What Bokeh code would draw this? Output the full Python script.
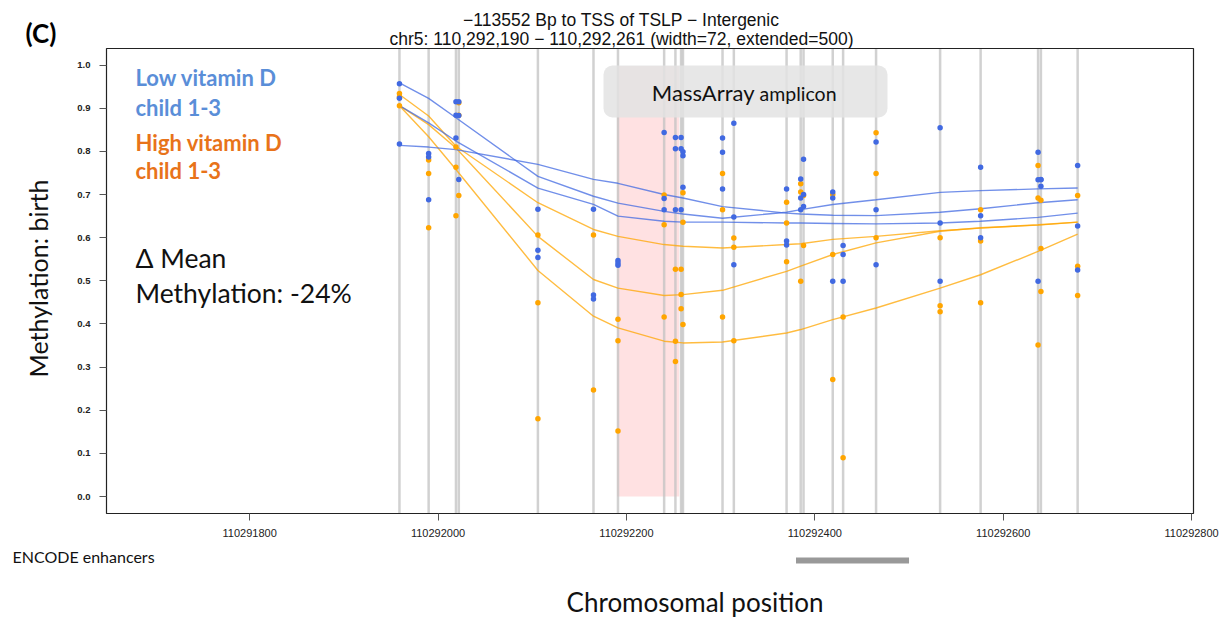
import math

from bokeh.plotting import figure
from bokeh.models import (Range1d, FixedTicker, NumeralTickFormatter, BasicTickFormatter,
                          Label, BoxAnnotation)
from bokeh.embed import file_html
from bokeh.resources import INLINE

# CpG sites covered by the region (bp)
cpg_pos = [110291959, 110291990, 110292019, 110292022, 110292106, 110292165, 110292191,
           110292240, 110292252, 110292258, 110292260, 110292302, 110292314, 110292370,
           110292385, 110292388, 110292419, 110292430, 110292465, 110292533, 110292576,
           110292637, 110292640, 110292679]

# methylation per CpG, low vitamin D group (child 1-3)
low_vd = [[0.957, 0.923, 0.817], [0.795, 0.787, 0.688], [0.915, 0.884, 0.831],
          [0.915, 0.883, 0.735], [0.666, 0.571, 0.554], [0.666, 0.467, 0.458],
          [0.547, 0.541, 0.536], [0.844, 0.691, 0.665], [0.832, 0.806, 0.665],
          [0.832, 0.806, 0.665], [0.799, 0.790, 0.717], [0.831, 0.798, 0.713],
          [0.865, 0.648, 0.537], [0.713, 0.592, 0.583], [0.736, 0.692, 0.665],
          [0.782, 0.700, 0.672], [0.706, 0.692, 0.499], [0.582, 0.561, 0.499],
          [0.822, 0.665, 0.537], [0.855, 0.634, 0.499], [0.763, 0.651, 0.600],
          [0.798, 0.734, 0.499], [0.734, 0.719, 0.735], [0.767, 0.627, 0.525]]

# methylation per CpG, high vitamin D group (child 1-3)
high_vd = [[0.934, 0.926, 0.906], [0.780, 0.749, 0.623], [0.810, 0.763, 0.651],
           [0.913, 0.884, 0.698], [0.606, 0.449, 0.180], [0.606, 0.247],
           [0.411, 0.361, 0.152], [0.699, 0.630, 0.416], [0.527, 0.360, 0.313],
           [0.527, 0.468, 0.435], [0.704, 0.636, 0.399], [0.749, 0.665, 0.416],
           [0.599, 0.578, 0.361], [0.682, 0.634, 0.544], [0.725, 0.706, 0.499],
           [0.698, 0.582], [0.700, 0.561, 0.271], [0.416, 0.090],
           [0.843, 0.749, 0.600], [0.600, 0.442, 0.428], [0.665, 0.592, 0.449],
           [0.767, 0.692, 0.351], [0.687, 0.575, 0.475], [0.698, 0.534, 0.466]]

# smoothed curves, one per child
fit_pos = [110291959, 110291990, 110292019, 110292106, 110292165, 110292191, 110292240,
           110292260, 110292302, 110292370, 110292385, 110292419, 110292465, 110292533,
           110292576, 110292637, 110292679]
low_fit_a = [0.959, 0.923, 0.878, 0.742, 0.696, 0.680, 0.661, 0.655, 0.645, 0.659, 0.665,
             0.677, 0.688, 0.705, 0.709, 0.713, 0.715]
low_fit_b = [0.906, 0.866, 0.824, 0.715, 0.677, 0.650, 0.638, 0.636, 0.636, 0.634, 0.634,
             0.633, 0.632, 0.634, 0.638, 0.647, 0.657]
low_fit_c = [0.814, 0.810, 0.804, 0.770, 0.735, 0.726, 0.700, 0.692, 0.672, 0.657, 0.655,
             0.652, 0.651, 0.659, 0.667, 0.681, 0.688]
high_fit_a = [0.932, 0.882, 0.812, 0.681, 0.619, 0.603, 0.584, 0.580, 0.576, 0.584, 0.586,
              0.596, 0.603, 0.616, 0.622, 0.630, 0.636]
high_fit_b = [0.906, 0.862, 0.808, 0.603, 0.503, 0.483, 0.466, 0.468, 0.478, 0.522, 0.534,
              0.561, 0.588, 0.615, 0.623, 0.629, 0.636]
high_fit_c = [0.906, 0.834, 0.758, 0.524, 0.418, 0.391, 0.360, 0.356, 0.358, 0.379, 0.387,
              0.410, 0.437, 0.483, 0.514, 0.568, 0.608]

# regions
amplicon = (110292190, 110292256)
amplicon_top = 0.998
enhancer = (110292380, 110292500)
x_ticks = [110291800, 110292000, 110292200, 110292400, 110292600, 110292800]
y_ticks = [0.0, 0.1, 0.2, 0.3, 0.4, 0.5, 0.6, 0.7, 0.8, 0.9, 1.0]

# limits of the methylation panel, and where that panel sits on the page
X0, X1 = 110291648, 110292802
Y0, Y1 = -0.0394, 1.0385
W, H = 1225, 619
BOX_L, BOX_R, BOX_T, BOX_B = 106, 1193, 48, 513

BLUE = "#4169e1"
ORANGE = "#ffa500"

# the canvas is one big frame so that the panel's surround (titles, track) can be drawn too
bpp = (X1 - X0) / (BOX_R - BOX_L)
upp = (Y1 - Y0) / (BOX_B - BOX_T)
x_range = Range1d(X0 - BOX_L * bpp, X1 + (W - BOX_R) * bpp)
y_range = Range1d(Y0 - (H - BOX_B) * upp, Y1 + BOX_T * upp)


def at(px, py):
    return x_range.start + px * bpp, y_range.end - py * upp


p = figure(width=W, height=H, title=None, toolbar_location=None, output_backend="svg",
           x_range=x_range, y_range=y_range,
           min_border_left=0, min_border_right=0, min_border_top=0, min_border_bottom=0)
p.grid.visible = False
p.outline_line_color = None

# axes pinned to the panel edges
p.xaxis.fixed_location = Y0
p.yaxis.fixed_location = X0
p.xaxis.ticker = FixedTicker(ticks=x_ticks)
p.xaxis.formatter = BasicTickFormatter(use_scientific=False)
p.yaxis.ticker = FixedTicker(ticks=y_ticks)
p.yaxis.formatter = NumeralTickFormatter(format="0.0")
for ax in (p.xaxis[0], p.yaxis[0]):
    ax.axis_line_color = None
    ax.minor_tick_line_color = None
    ax.major_tick_in = 0
    ax.major_tick_out = 7
    ax.major_tick_line_color = "#555555"
    ax.major_label_text_font = "Liberation Sans"
    ax.major_label_text_color = "#222222"
p.xaxis.major_label_text_font_size = "11px"
p.xaxis.major_label_standoff = 8
p.yaxis.major_label_text_font_size = "9.5px"
p.yaxis.major_label_text_font_style = "bold"
p.yaxis.major_label_standoff = 9

# amplicon shading and CpG markers
p.quad(left=[amplicon[0]], right=[amplicon[1]], bottom=[0.0], top=[amplicon_top],
       fill_color="#ffe1e2", line_color=None)
p.segment(x0=cpg_pos, y0=Y0, x1=cpg_pos, y1=Y1, line_color="#c2c2c2", line_alpha=0.75,
          line_width=2.5)

# smoothed curves
for fit in (high_fit_a, high_fit_b, high_fit_c):
    p.line(fit_pos, fit, line_color=ORANGE, line_width=1.4, line_alpha=0.75)
for fit in (low_fit_a, low_fit_b, low_fit_c):
    p.line(fit_pos, fit, line_color=BLUE, line_width=1.4, line_alpha=0.75)

# raw points
bx, by = [], []
for pos, vals in zip(cpg_pos, low_vd):
    for v in vals:
        bx.append(pos)
        by.append(v)
ox, oy = [], []
for pos, vals in zip(cpg_pos, high_vd):
    for v in vals:
        ox.append(pos)
        oy.append(v)
p.scatter(ox, oy, size=5.5, fill_color=ORANGE, line_color=None)
p.scatter(bx, by, size=5.5, fill_color=BLUE, line_color=None)

# panel border
p.quad(left=[X0], right=[X1], bottom=[Y0], top=[Y1], fill_color=None,
       line_color="#222222", line_width=1.2)

# amplicon label box
bl, bt = at(603, 65)
br, bb = at(887, 117)
p.add_layout(BoxAnnotation(left=bl, right=br, bottom=bb, top=bt, fill_color="#e3e3e3",
                           fill_alpha=0.85, line_color=None, border_radius=9))


def label(px, py, text, size, font="Lato", align="left", style="normal", color="#111111",
          angle=0.0):
    # py is the wanted baseline; the rendered baseline sits about 0.38 em lower
    shift = 0.38 * size
    if angle:
        x, y = at(px - shift, py)
    else:
        x, y = at(px, py - shift)
    p.add_layout(Label(x=x, y=y, text=text, text_align=align, text_baseline="alphabetic",
                       text_font=font, text_font_size=f"{size}px", text_font_style=style,
                       text_color=color, angle=angle))


label(754, 100, "MassArray", 22, align="right")
label(759, 100, "amplicon", 19.5)

# ENCODE enhancer track
_, e_top = at(0, 557)
_, e_bot = at(0, 563)
p.quad(left=[enhancer[0]], right=[enhancer[1]], bottom=[e_bot], top=[e_top],
       fill_color="#999999", line_color=None)
label(12, 562, "ENCODE enhancers", 16)

# titles and axis names
label(621, 26.5, "\u2212113552 Bp to TSS of TSLP \u2212 Intergenic", 17.5,
      font="Liberation Sans", align="center")
label(621, 45, "chr5: 110,292,190 \u2212 110,292,261 (width=72, extended=500)", 17.5,
      font="Liberation Sans", align="center")
label(25, 42, "(C)", 26, style="bold", color="#000000")
label(694.5, 611, "Chromosomal position", 26, align="center")
label(47, 278, "Methylation: birth", 25, align="center", angle=math.pi / 2)

# group legend and effect size
label(135, 85, "Low vitamin D", 22, style="bold", color="#5a8ed8")
label(135, 115, "child 1-3", 22, style="bold", color="#5a8ed8")
label(135, 150, "High vitamin D", 22, style="bold", color="#e8731a")
label(135, 178.5, "child 1-3", 22, style="bold", color="#e8731a")
label(135, 268, "\u0394 Mean", 26.5)
label(135, 303, "Methylation: -24%", 26.5)

open("out.html", "w").write(file_html(p, INLINE))
